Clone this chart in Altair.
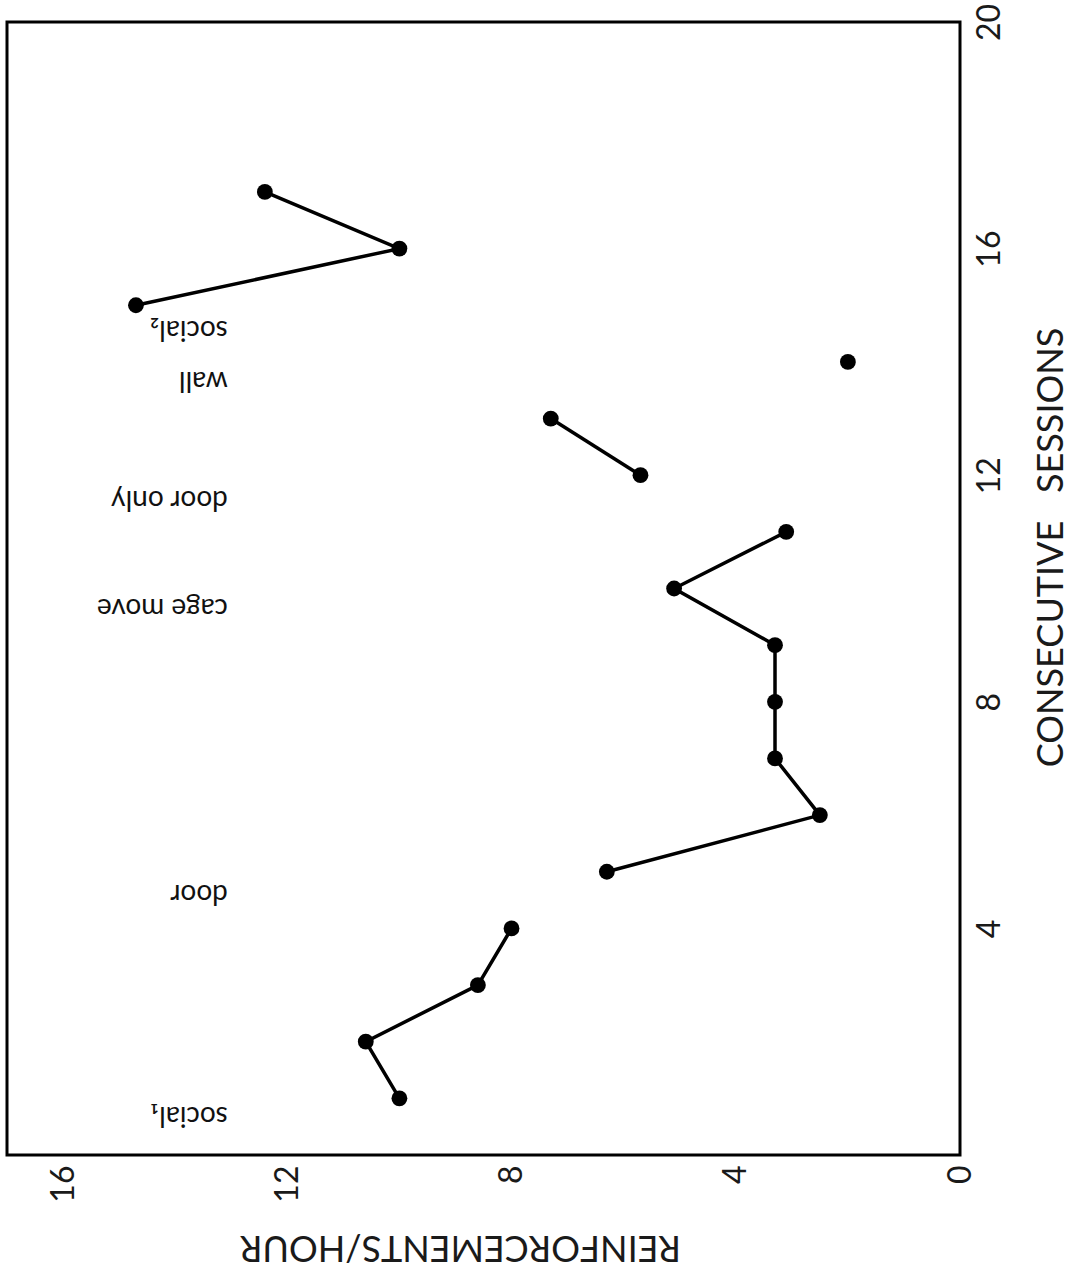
import altair as alt
import pandas as pd

# Data read from the (rotated) reference figure
sessions = [1, 2, 3, 4, 5, 6, 7, 8, 9, 10, 11, 12, 13, 14, 15, 16, 17]
reinf_per_hour = [10.0, 10.6, 8.6, 8.0, 6.3, 2.5, 3.3, 3.3, 3.3, 5.1, 3.1, 5.7, 7.3, 2.0, 14.7, 10.0, 12.4]
segment = ["a", "a", "a", "a", "b", "b", "b", "b", "b", "b", "b", "c", "c", "d", "e", "e", "e"]

label_text = ["social\u2081", "door", "cage move", "door only", "wall", "social\u2082"]
label_session = [0.71, 4.62, 9.67, 11.58, 13.68, 14.58]
label_value = [13.06, 13.06, 13.06, 13.06, 13.06, 13.06]

value_ticks = [0, 4, 8, 12, 16]
session_ticks = [4, 8, 12, 16, 20]

df = pd.DataFrame({"session": sessions, "value": reinf_per_hour, "seg": segment})
lab = pd.DataFrame({"text": label_text, "session": label_session, "value": label_value})

FONT = "Lato"

x_enc = alt.X(
    "value:Q",
    scale=alt.Scale(domain=[0, 17], reverse=True, nice=False, zero=False),
    axis=alt.Axis(
        values=value_ticks,
        format="d",
        orient="bottom",
        title="REINFORCEMENTS/HOUR",
        titleAngle=180,
        titleAlign="center",
        titleBaseline="middle",
        titleX=453,
        titleY=91,
        titleFontSize=36,
        titleFont=FONT,
        titleFontWeight="normal",
        titleColor="#1a1a1a",
        labelAngle=270,
        labelAlign="right",
        labelBaseline="middle",
        labelPadding=10,
        labelFontSize=32,
        labelFont=FONT,
        labelColor="#1a1a1a",
        labelFlush=False,
        labelOverlap=False,
        domain=False,
        ticks=False,
        grid=False,
    ),
)

y_enc = alt.Y(
    "session:Q",
    scale=alt.Scale(domain=[0, 20], nice=False, zero=False),
    axis=alt.Axis(
        values=session_ticks,
        format="d",
        orient="right",
        title="CONSECUTIVE\u00a0\u00a0 SESSIONS",
        titleAngle=270,
        titleAlign="center",
        titleBaseline="top",
        titleX=74,
        titleY=525,
        titleFontSize=36,
        titleFont=FONT,
        titleFontWeight="normal",
        titleColor="#1a1a1a",
        labelAngle=270,
        labelAlign="center",
        labelBaseline="top",
        labelPadding=14,
        labelFontSize=32,
        labelFont=FONT,
        labelColor="#1a1a1a",
        labelFlush=False,
        labelOverlap=False,
        domain=False,
        ticks=False,
        grid=False,
    ),
)

line = alt.Chart(df).mark_line(color="black", strokeWidth=3.5).encode(
    x=x_enc, y=y_enc, detail="seg:N", order="session:Q"
)
points = alt.Chart(df).mark_circle(color="black", size=250, opacity=1).encode(
    x=alt.X("value:Q"), y=alt.Y("session:Q")
)
labels = alt.Chart(lab).mark_text(
    angle=180, align="left", baseline="middle", fontSize=28, font=FONT, color="#111"
).encode(x=alt.X("value:Q"), y=alt.Y("session:Q"), text="text:N")

chart = (
    alt.layer(line, points, labels)
    .properties(
        width=953,
        height=1133,
        padding={"left": 7, "top": 22, "right": 114, "bottom": 121},
        autosize=alt.AutoSizeParams(type="none"),
        background="white",
    )
    .configure_view(stroke="black", strokeWidth=3)
)

chart.save("out.html", embed_options={"renderer": "svg", "actions": False})
